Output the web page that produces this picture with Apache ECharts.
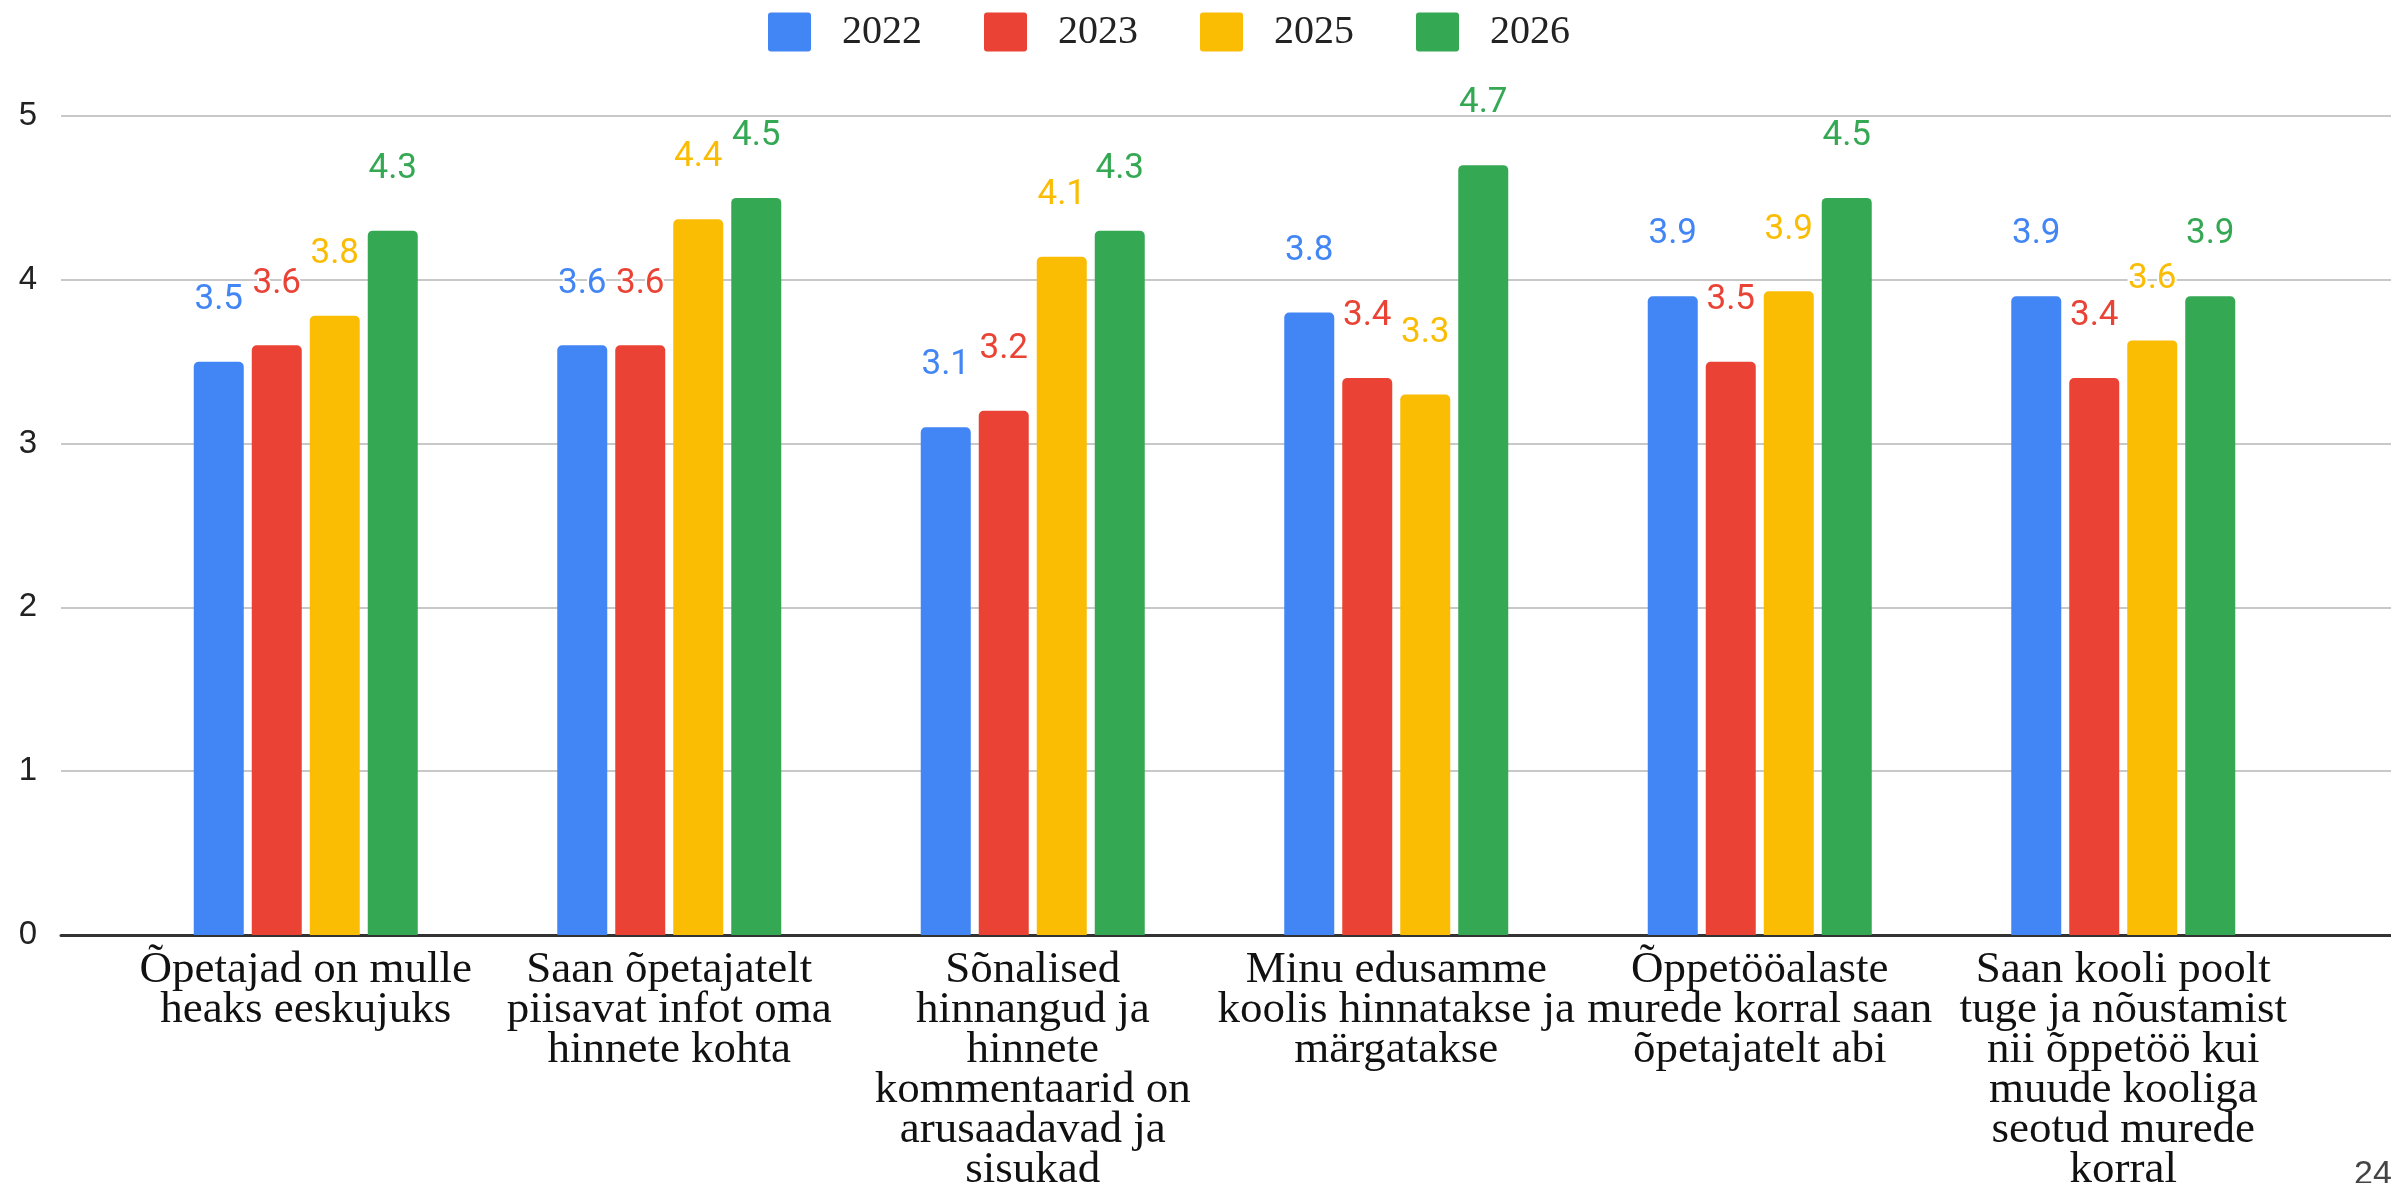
<!DOCTYPE html>
<html>
<head>
<meta charset="utf-8">
<script src="https://cdn.jsdelivr.net/npm/echarts@6/dist/echarts.min.js"></script>
<style>
  html, body { margin: 0; padding: 0; background: #fff; }
  #chart { width: 2391px; height: 1183px; }
</style>
</head>
<body>
<div id="chart"></div>
<script>
// küsimused (x-telg)
const categories = [
  'Õpetajad on mulle\nheaks eeskujuks',
  'Saan õpetajatelt\npiisavat infot oma\nhinnete kohta',
  'Sõnalised\nhinnangud ja\nhinnete\nkommentaarid on\narusaadavad ja\nsisukad',
  'Minu edusamme\nkoolis hinnatakse ja\nmärgatakse',
  'Õppetööalaste\nmurede korral saan\nõpetajatelt abi',
  'Saan kooli poolt\ntuge ja nõustamist\nnii õppetöö kui\nmuude kooliga\nseotud murede\nkorral'
]
const years = ['2022', '2023', '2025', '2026']
const values2022 = [3.5, 3.6, 3.1, 3.8, 3.9, 3.9]
const values2023 = [3.6, 3.6, 3.2, 3.4, 3.5, 3.4]
const values2025 = [3.78, 4.37, 4.14, 3.3, 3.93, 3.63]
const values2026 = [4.3, 4.5, 4.3, 4.7, 4.5, 3.9]
const yTicks = [0, 1, 2, 3, 4, 5]

const colors = ['#4285f4', '#ea4335', '#fbbc04', '#34a853']
const allValues = [values2022, values2023, values2025, values2026]

const myChart = echarts.init(document.getElementById('chart'))

const series = years.map((name, i) => ({
  name,
  type: 'bar',
  xAxisIndex: 1,
  yAxisIndex: 1,
  barWidth: 50,
  barGap: '16%',
  itemStyle: {
    color: colors[i],
    borderRadius: [5, 5, 0, 0]
  },
  label: {
    show: true,
    position: 'top',
    distance: 44,
    color: colors[i],
    fontSize: 35,
    fontFamily: 'Roboto',
    textBorderColor: '#fff',
    textBorderWidth: 4,
    formatter: p => p.value.toFixed(1)
  },
  data: allValues[i]
}))

const option = {
  animation: false,
  backgroundColor: '#fff',
  color: colors,
  legend: {
    top: 7,
    left: 763,
    // ümarate nurkadega ruut
    icon: 'path://M3,0H40Q43,0,43,3V36Q43,39,40,39H3Q0,39,0,36V3Q0,0,3,0Z',
    itemWidth: 43,
    itemHeight: 39,
    itemGap: 62,
    textStyle: {
      fontFamily: 'Liberation Serif',
      fontSize: 40,
      color: '#222',
      padding: [0, 0, 0, 26]
    },
    data: years
  },
  grid: [
    // taustavõrk üle kogu laiuse
    { left: 61, right: 0, top: 116, bottom: 248, outerBoundsMode: 'none', containLabel: false },
    // tulbad
    { left: 124, right: 86, top: 116, bottom: 248, outerBoundsMode: 'none', containLabel: false }
  ],
  xAxis: [
    {
      type: 'value',
      gridIndex: 0,
      min: 0,
      max: 1,
      axisLine: { show: true, lineStyle: { color: '#333', width: 3 } },
      axisTick: { show: false },
      axisLabel: { show: false },
      splitLine: { show: false }
    },
    {
      type: 'category',
      gridIndex: 1,
      data: categories,
      axisLine: { show: false },
      axisTick: { show: false },
      axisLabel: {
        interval: 0,
        margin: 15,
        fontFamily: 'Liberation Serif',
        fontSize: 45,
        lineHeight: 40,
        color: '#111',
        align: 'center'
      }
    }
  ],
  yAxis: [
    {
      type: 'value',
      gridIndex: 0,
      min: yTicks[0],
      max: yTicks[yTicks.length - 1],
      interval: 1,
      axisLine: { show: false },
      axisTick: { show: false },
      axisLabel: {
        margin: 24,
        fontFamily: 'Liberation Sans',
        fontSize: 33,
        color: '#222'
      },
      splitLine: { lineStyle: { color: '#c8c8c8', width: 2 } }
    },
    {
      type: 'value',
      gridIndex: 1,
      min: 0,
      max: 5,
      interval: 1,
      show: false,
      splitLine: { show: false }
    }
  ],
  graphic: [
    {
      type: 'text',
      left: 2354,
      top: 1158,
      style: { text: '24', fontSize: 34, fontFamily: 'Liberation Sans', fill: '#444' }
    }
  ],
  series
}

myChart.setOption(option)
</script>
</body>
</html>
